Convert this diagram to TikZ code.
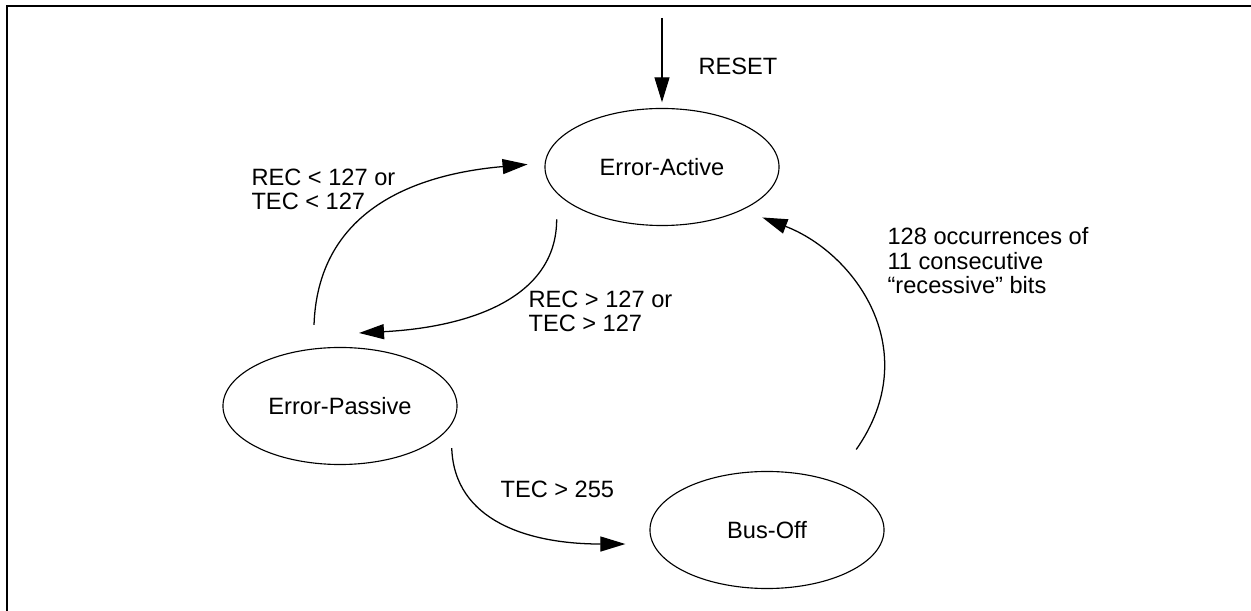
\documentclass[tikz,border=0pt]{standalone}
\usepackage{fontspec}
\setmainfont{Liberation Sans}
\usetikzlibrary{shapes.geometric}
\usetikzlibrary{arrows.meta}

\begin{document}
\begin{tikzpicture}[x=0.025cm, y=0.025cm,                                      % one unit = one pixel
	                    >={Triangle[length=0.625cm, width=0.375cm]}, line width=0.8pt,  % Big filled heads
	                    font=\fontsize{16.8}{17.4}\selectfont,
	                    mode/.style={ellipse, draw, minimum width=5.85cm, minimum height=2.925cm, inner sep=0pt},
	                    cond/.style={anchor=north west, inner sep=0pt, align=left}]
	\useasboundingbox (0,0) rectangle (1251,611);
	\draw[line width=1.5pt] (7,0) -- (7,605) -- (1251,605);                     % Frame
	\node[mode] (active) at (662,444) {Error-Active};
	\node[mode] (passive) at (340,205) {Error-Passive};
	\node[mode] (busoff) at (767,81) {Bus-Off};
	\coordinate (reset) at (662,593);
	\coordinate (pastip) at (359,278);
	\node[cond] (resetlbl) at (698,554) {RESET};
	\node[cond] (back) at (251,443) {REC < 127 or\\TEC < 127};
	\node[cond] (down) at (528,321) {REC > 127 or\\TEC > 127};
	\node[cond] (off) at (500,131) {TEC > 255};
	\node[cond] (recover) at (887,384) {128 occurrences of\\11 consecutive\\“recessive” bits};
	\path[->, line width=0.9pt]
		(reset) edge [shorten >=0.14cm] (active)
		(passive.115) edge [out=88, in=185, out distance=3.75cm, in distance=2.75cm,
		                    shorten <=0.59cm, shorten >=0.43cm] (active.178)
		(active.194) edge [out=270, in=3, out distance=2.625cm, in distance=2.75cm,
		                   shorten <=0.65cm] (pastip)
		(passive.-10) edge [out=272, in=180, out distance=2.375cm, in distance=3.125cm,
		                    shorten <=0.565cm, shorten >=0.685cm] (busoff.187)
		(busoff.36) edge [out=55, in=-21, out distance=4cm, in distance=3cm,
		                  shorten <=0.975cm, shorten >=0.525cm] (active.-28);
	%\draw[->] (busoff.36) .. controls +(55:4cm) and +(-21:3cm) .. (active.-28);   % Same, by hand
\end{tikzpicture}
\end{document}
